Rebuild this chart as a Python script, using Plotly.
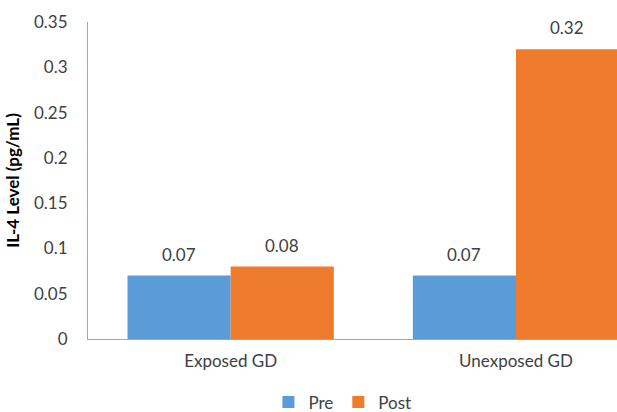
import plotly.graph_objects as go

# Groups and IL-4 measurements
groups = ["Exposed GD", "Unexposed GD"]
pre_values = [0.07, 0.07]
post_values = [0.08, 0.32]
y_ticks = [0, 0.05, 0.1, 0.15, 0.2, 0.25, 0.3, 0.35]
y_tick_labels = ["0", "0.05", "0.1", "0.15", "0.2", "0.25", "0.3", "0.35"]

FONT = "Lato, 'Open Sans', sans-serif"
TXT = "#404040"
BAR_HALF_PX = 51.5  # half of one bar's drawn width

fig = go.Figure()
fig.add_trace(go.Bar(name="Pre", x=groups, y=pre_values,
                     marker=dict(color="#5b9bd8", line=dict(width=0))))
fig.add_trace(go.Bar(name="Post", x=groups, y=post_values,
                     marker=dict(color="#ef7b2c", line=dict(width=0))))

# Value labels above each bar
for series, shift in ((pre_values, -BAR_HALF_PX), (post_values, BAR_HALF_PX)):
    for g, v in zip(groups, series):
        fig.add_annotation(x=g, y=v, text=f"{v:g}", showarrow=False,
                           xshift=shift, yshift=9, yanchor="bottom",
                           font=dict(size=17, color=TXT, family=FONT))

fig.update_layout(
    width=617, height=412,
    margin=dict(l=88, r=0, t=22, b=73, autoexpand=False),
    paper_bgcolor="white", plot_bgcolor="white",
    barmode="group", bargap=0.277, bargroupgap=0,
    font=dict(family=FONT, size=17, color=TXT),
    showlegend=True,
    legend=dict(orientation="h", x=0.555, xref="container", xanchor="center",
                y=-0.2, yref="paper", yanchor="middle",
                font=dict(size=17, color=TXT), itemwidth=30, traceorder="normal"),
)
fig.update_xaxes(
    range=[-0.5, 1.354], showline=True, linecolor="#a6a6a6", linewidth=1,
    showgrid=False, ticks="", ticklabelstandoff=7,
    tickfont=dict(size=17, color=TXT),
)
fig.update_yaxes(
    range=[0, 0.35], tickvals=y_ticks, ticktext=y_tick_labels,
    showline=True, linecolor="#a6a6a6", linewidth=1,
    showgrid=False, ticks="", ticklabelstandoff=16, zeroline=False,
    tickfont=dict(size=17, color=TXT),
    title=dict(text="<b>IL-4 Level (pg/mL)</b>", font=dict(size=17, color="#000000"), standoff=10),
)

fig.write_html("out.html")
